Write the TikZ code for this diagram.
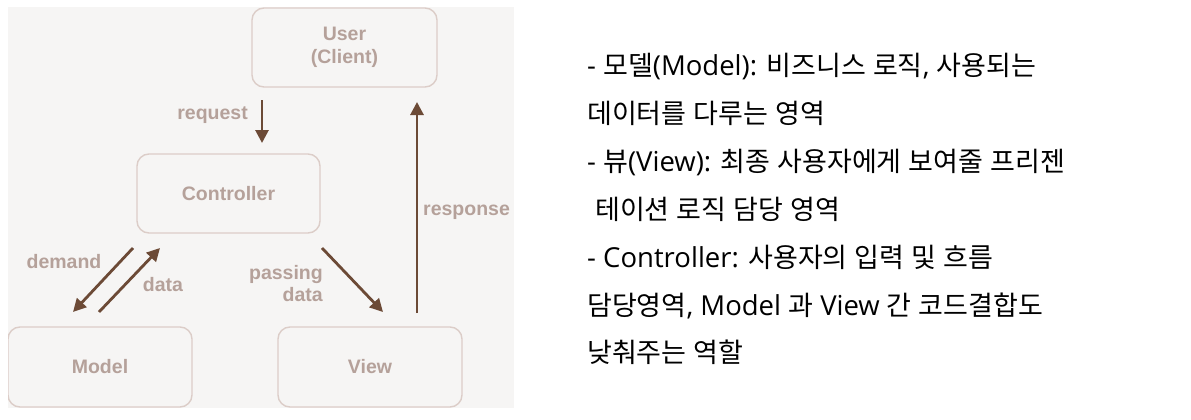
\documentclass[tikz,border=0pt]{standalone}
\usepackage{fontspec}
\setmainfont{Liberation Sans}
\newfontfamily\kr{Noto Sans CJK KR}
\newfontfamily\lat{Open Sans}
\newcommand\Kr[1]{{\kr\fontsize{27}{30}\selectfont #1}}
\usetikzlibrary{arrows.meta}
\definecolor{panel}{HTML}{F6F5F4}
\definecolor{boxline}{HTML}{DCCDC8}
\definecolor{lbl}{HTML}{B5A19A}
\definecolor{arr}{HTML}{6C4A36}
\tikzset{
  mvc/.style={draw=boxline, line width=1.4pt, rounded corners=12pt, fill=panel,
    font=\bfseries\fontsize{19.5}{23}\selectfont, text=lbl, align=center, inner sep=0pt},
  lab/.style={font=\bfseries\fontsize{19.5}{22}\selectfont, text=lbl, inner sep=0pt, align=center},
  flow/.style={draw=arr, line width=2.8pt, -{Triangle[length=13pt,width=13pt]}},
  krline/.style={anchor=base west, inner sep=0pt, font=\lat\fontsize{27.5}{30}\selectfont, text=black}
}
\begin{document}
\begin{tikzpicture}[x=1pt,y=-1pt]
\useasboundingbox (0,0) rectangle (1191,420);
\fill[white] (0,0) rectangle (1191,420);
\begin{scope}
\clip (8,7) rectangle (514,408);
\fill[panel] (8,7) rectangle (514,408);
\node[mvc, minimum width=185pt, minimum height=79pt] (user) at (344.5,47.5) {User\\(Client)};
\node[mvc, minimum width=183pt, minimum height=79pt] (ctrl) at (228.5,193.5) {Controller};
\node[mvc, minimum width=184pt, minimum height=80pt] (model) at (100,367) {Model};
\node[mvc, minimum width=184pt, minimum height=80pt] (view) at (370,367) {View};
\coordinate (rqA) at (262,100);
\coordinate (rqB) at (262,143);
\draw[flow] (rqA) -- (rqB);
\node[lab, anchor=east] (lreq) at (248,115) {request};
\coordinate (rsA) at (417,313);
\coordinate (rsB) at (417,102);
\draw[flow] (rsA) -- (rsB);
\node[lab, anchor=west] (lres) at (423,212) {response};
\coordinate (dmA) at (133,248);
\coordinate (dmB) at (73,312);
\draw[flow] (dmA) -- (dmB);
\node[lab] (ldm) at (64,262) {demand};
\coordinate (dtA) at (99,312);
\coordinate (dtB) at (160,248);
\draw[flow] (dtA) -- (dtB);
\node[lab] (ldt) at (163,285) {data};
\coordinate (pdA) at (322,248);
\coordinate (pdB) at (383,312);
\draw[flow] (pdA) -- (pdB);
\node[lab, anchor=east, align=right, font=\bfseries\fontsize{19.5}{22}\selectfont] (lpd) at (323,284) {passing\\data};
\end{scope}
\node[krline] (t1) at (587,76) {- \Kr{모델}(Model): \Kr{비즈니스} \Kr{로직}, \Kr{사용되는}};
\node[krline] (t2) at (587,123.5) {\Kr{데이터를} \Kr{다루는} \Kr{영역}};
\node[krline] (t3) at (587,171) {- \Kr{뷰}(View): \Kr{최종} \Kr{사용자에게} \Kr{보여줄} \Kr{프리젠}};
\node[krline] (t4) at (595,219) {\Kr{테이션} \Kr{로직} \Kr{담당} \Kr{영역}};
\node[krline] (t5) at (587,267) {- Controller: \Kr{사용자의} \Kr{입력} \Kr{및} \Kr{흐름}};
\node[krline] (t6) at (587,315) {\Kr{담당영역}, Model \Kr{과} View \Kr{간} \Kr{코드결합도}};
\node[krline] (t7) at (587,362) {\Kr{낮춰주는} \Kr{역할}};
\end{tikzpicture}
\end{document}
